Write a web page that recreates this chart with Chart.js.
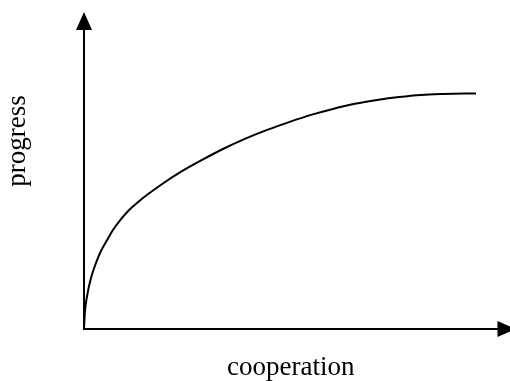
<!DOCTYPE html>
<html>
<head>
<meta charset="utf-8">
<script src="https://cdn.jsdelivr.net/npm/chart.js@4"></script>
<style>
    html, body { margin: 0; padding: 0; background: #fff; }
    #wrap { width: 510px; height: 381px; }
</style>
</head>
<body>
<div id="wrap"><canvas id="chart"></canvas></div>
<script>
// values (both axes 0..100, no ticks shown)
const cooperation = [0, 0.2, 0.7, 1.7, 2.9, 4.1, 5.6, 7.0, 9.0, 10.9, 13.1, 15.2, 18.9, 23.0, 28.1, 33.6,
    38.9, 44.3, 49.6, 54.9, 60.2, 65.5, 70.9, 76.2, 81.5, 87.1, 94.8];
const progress = [0, 5.4, 10.7, 17.1, 22.1, 26.1, 29.8, 33.1, 36.8, 39.8, 42.5, 44.8, 48.5, 52.2, 56.2, 60.2,
    63.6, 66.6, 69.2, 71.6, 73.6, 75.3, 76.6, 77.6, 78.3, 78.6, 78.8];

const xLabel = 'cooperation';
const yLabel = 'progress';

const serif = "'Liberation Serif', 'Times New Roman', serif";

// arrow heads on the axes + the rotated y label
const axisArrows = {
    id: 'axisArrows',
    afterDraw(chart) {
        const ctx = chart.ctx;
        const xs = chart.scales.x;
        const ys = chart.scales.y;
        const ax = xs.left;      // y axis line
        const ay = ys.bottom;    // x axis line
        ctx.save();
        ctx.fillStyle = '#000';

        ctx.beginPath();
        ctx.moveTo(ax, ys.top - 18);
        ctx.lineTo(ax - 8, ys.top);
        ctx.lineTo(ax + 8, ys.top);
        ctx.closePath();
        ctx.fill();

        ctx.beginPath();
        ctx.moveTo(xs.right + 18, ay);
        ctx.lineTo(xs.right, ay - 8);
        ctx.lineTo(xs.right, ay + 8);
        ctx.closePath();
        ctx.fill();

        ctx.translate(ax - 59, ys.top + 111);
        ctx.rotate(-Math.PI / 2);
        ctx.font = '27px ' + serif;
        ctx.textAlign = 'center';
        ctx.textBaseline = 'alphabetic';
        ctx.fillText(yLabel, 0, 0);
        ctx.restore();
    }
};

const data = {
    datasets: [{
        data: cooperation.map((c, i) => ({ x: c, y: progress[i] })),
        borderColor: '#000',
        borderWidth: 2,
        pointRadius: 0,
        fill: false,
        cubicInterpolationMode: 'monotone'
    }]
};

const config = {
    type: 'line',
    data: data,
    options: {
        responsive: true,
        maintainAspectRatio: false,
        animation: false,
        layout: {
            padding: { left: 84, top: 30, right: 12.5, bottom: 0 }
        },
        scales: {
            x: {
                type: 'linear',
                min: 0,
                max: 100,
                grid: { display: false, drawTicks: false },
                ticks: { display: false },
                border: { display: true, color: '#000', width: 2 },
                title: {
                    display: true,
                    text: xLabel,
                    color: '#000',
                    font: { family: serif, size: 27, lineHeight: 1 },
                    padding: { top: 25, bottom: 0 }
                }
            },
            y: {
                min: 0,
                max: 100,
                grid: { display: false, drawTicks: false },
                ticks: { display: false },
                border: { display: true, color: '#000', width: 2 }
            }
        },
        plugins: {
            legend: { display: false },
            tooltip: { enabled: false }
        }
    },
    plugins: [axisArrows]
};

new Chart(document.getElementById('chart'), config);
</script>
</body>
</html>
